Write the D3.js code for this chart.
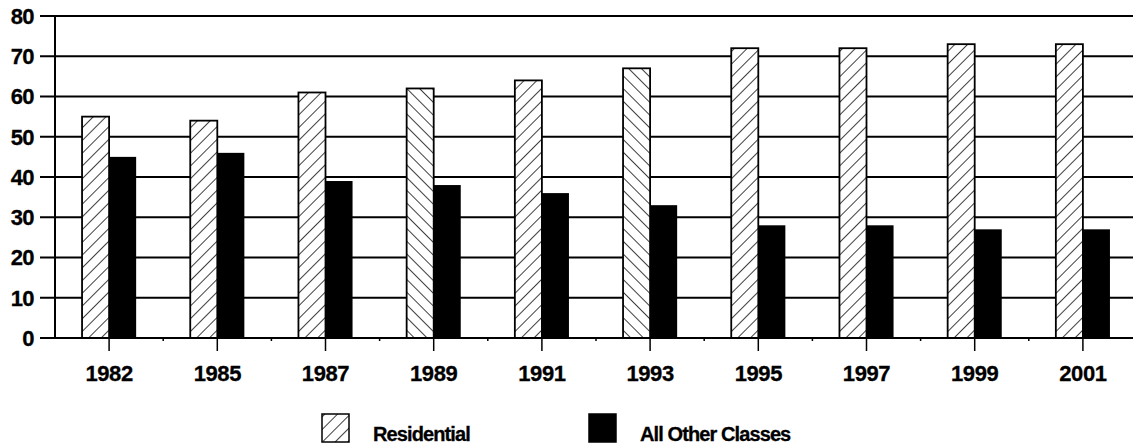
<!DOCTYPE html>
<html>
<head>
<meta charset="utf-8">
<script src="https://cdn.jsdelivr.net/npm/d3@7/dist/d3.min.js"></script>
<style>
  html, body { margin: 0; padding: 0; background: #fff; }
  svg { display: block; }
  text { font-family: "Liberation Sans", Arial, sans-serif; font-weight: bold; fill: #000; }
</style>
</head>
<body>
<svg id="chart" width="1133" height="445"></svg>
<script>
// Share of sales by customer class (%)
const years = ["1982", "1985", "1987", "1989", "1991", "1993", "1995", "1997", "1999", "2001"];
const residential = [55, 54, 61, 62, 64, 67, 72, 72, 73, 73];
const otherClasses = [45, 46, 39, 38, 36, 33, 28, 28, 27, 27];
const seriesNames = ["Residential", "All Other Classes"];
const yTicks = [0, 10, 20, 30, 40, 50, 60, 70, 80];

// Years whose residential bar is hatched the other way
const reverseHatch = new Set(["1989", "1993"]);

const W = 1133, H = 445;
const plotLeft = 55, plotTop = 16, plotBottom = 338;
const step = 108.2;

const svg = d3.select("#chart");
const defs = svg.append("defs");

function hatch(id, dir) {
  const p = defs.append("pattern")
    .attr("id", id)
    .attr("patternUnits", "userSpaceOnUse")
    .attr("width", 9).attr("height", 9)
    .attr("patternTransform", `rotate(${dir * 45})`);
  p.append("rect").attr("width", 9).attr("height", 9).attr("fill", "#fff");
  p.append("line").attr("x1", 0).attr("y1", 0).attr("x2", 0).attr("y2", 9)
    .attr("stroke", "#000").attr("stroke-width", 1.5);
}
hatch("hatchFwd", 1);
hatch("hatchBack", -1);

const x = d3.scaleBand()
  .domain(years)
  .range([plotLeft, plotLeft + step * years.length])
  .paddingInner(0.5)
  .paddingOuter(0.25);

const xSub = d3.scaleBand()
  .domain(seriesNames)
  .range([0, x.bandwidth()]);

const y = d3.scaleLinear().domain([0, 80]).range([plotBottom, plotTop]);

// Horizontal grid lines with outward ticks
svg.append("g")
  .selectAll("line")
  .data(yTicks)
  .join("line")
  .attr("x1", 40).attr("x2", W)
  .attr("y1", d => y(d)).attr("y2", d => y(d))
  .attr("stroke", "#000").attr("stroke-width", 1.8);

// Y axis labels
svg.append("g")
  .selectAll("text")
  .data(yTicks)
  .join("text")
  .attr("x", 34)
  .attr("y", d => y(d))
  .attr("dy", "0.36em")
  .attr("text-anchor", "end")
  .attr("font-size", 22)
  .attr("letter-spacing", -0.6)
  .attr("stroke", "#000").attr("stroke-width", 0.3)
  .text(d => d);

// Bars
const groups = svg.append("g")
  .selectAll("g")
  .data(years.map((yr, i) => ({ yr, vals: [residential[i], otherClasses[i]] })))
  .join("g")
  .attr("transform", d => `translate(${x(d.yr)},0)`);

groups.append("rect")
  .attr("x", xSub("Residential"))
  .attr("width", xSub.bandwidth())
  .attr("y", d => y(d.vals[0]))
  .attr("height", d => y(0) - y(d.vals[0]))
  .attr("fill", d => reverseHatch.has(d.yr) ? "url(#hatchBack)" : "url(#hatchFwd)")
  .attr("stroke", "#000").attr("stroke-width", 1.8);

groups.append("rect")
  .attr("x", xSub("All Other Classes"))
  .attr("width", xSub.bandwidth())
  .attr("y", d => y(d.vals[1]))
  .attr("height", d => y(0) - y(d.vals[1]))
  .attr("fill", "#000");

// Y axis line
svg.append("line")
  .attr("x1", plotLeft).attr("x2", plotLeft)
  .attr("y1", y(80)).attr("y2", y(0))
  .attr("stroke", "#000").attr("stroke-width", 2);

// X axis line, group ticks and minor ticks at band boundaries
svg.append("line")
  .attr("x1", plotLeft).attr("x2", W)
  .attr("y1", y(0)).attr("y2", y(0))
  .attr("stroke", "#000").attr("stroke-width", 2);

svg.append("g")
  .selectAll("line")
  .data(years)
  .join("line")
  .attr("x1", d => x(d) + x.bandwidth() / 2).attr("x2", d => x(d) + x.bandwidth() / 2)
  .attr("y1", y(0)).attr("y2", y(0) + 13)
  .attr("stroke", "#000").attr("stroke-width", 1.5);

svg.append("g")
  .selectAll("line")
  .data(years.slice(1))
  .join("line")
  .attr("x1", d => x(d) - x.step() * 0.25).attr("x2", d => x(d) - x.step() * 0.25)
  .attr("y1", y(0)).attr("y2", y(0) + 3)
  .attr("stroke", "#000").attr("stroke-width", 1.5);

// X labels
svg.append("g")
  .selectAll("text")
  .data(years)
  .join("text")
  .attr("x", d => x(d) + x.bandwidth() / 2)
  .attr("y", 381)
  .attr("text-anchor", "middle")
  .attr("font-size", 22)
  .attr("letter-spacing", -0.4)
  .attr("stroke", "#000").attr("stroke-width", 0.3)
  .text(d => d);

// Legend
const legend = svg.append("g");
const legendItems = [
  { name: seriesNames[0], fill: "url(#hatchFwd)", bx: 322, tx: 373 },
  { name: seriesNames[1], fill: "#000", bx: 589, tx: 640 }
];
legend.selectAll("rect")
  .data(legendItems)
  .join("rect")
  .attr("x", d => d.bx).attr("y", 414)
  .attr("width", 27).attr("height", 28)
  .attr("fill", d => d.fill)
  .attr("stroke", "#000").attr("stroke-width", 1.5);
legend.selectAll("text")
  .data(legendItems)
  .join("text")
  .attr("x", d => d.tx).attr("y", 441)
  .attr("font-size", 20)
  .attr("letter-spacing", -0.9)
  .attr("stroke", "#000").attr("stroke-width", 0.3)
  .text(d => d.name);
</script>
</body>
</html>
